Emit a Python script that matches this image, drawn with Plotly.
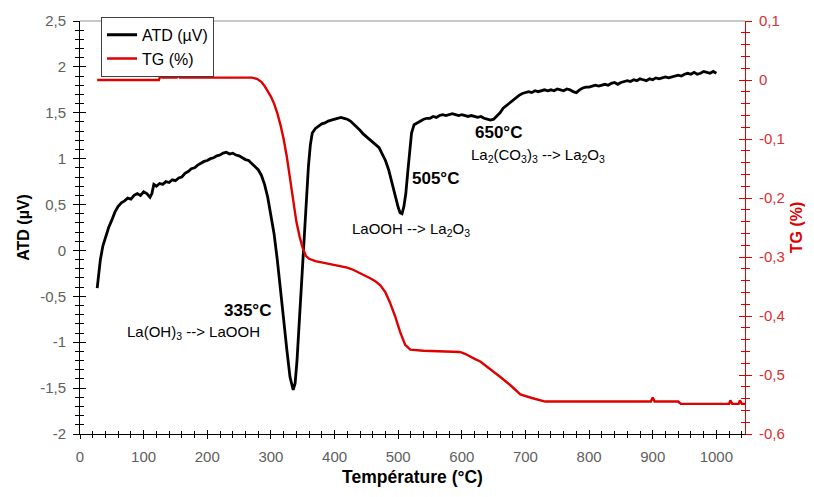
import plotly.graph_objects as go

# ---- data ----
temp_atd = [27, 29, 32, 36, 40, 45, 50, 55, 60, 65, 70, 75, 80, 85, 90, 95, 100, 105, 110, 113,
            116, 120, 125, 130, 135, 140, 145, 150, 155, 160, 165, 170, 175, 180, 185, 190, 195, 200,
            205, 210, 215, 220, 225, 230, 235, 240, 245, 250, 255, 260, 265, 270, 275, 280, 285, 290,
            295, 300, 305, 310, 315, 320, 325, 330, 335, 338, 341, 344, 347, 350, 353, 356, 359, 362,
            365, 370, 375, 380, 385, 390, 395, 400, 405, 410, 415, 420, 425, 430, 435, 440, 445, 450,
            455, 460, 465, 470, 475, 480, 485, 490, 495, 500, 503, 506, 509, 512, 515, 518, 521, 525,
            530, 535, 540, 545, 550, 555, 560, 565, 570, 575, 580, 585, 590, 595, 600, 605, 610, 615,
            620, 625, 630, 635, 640, 645, 650, 655, 660, 665, 670, 675, 680, 685, 690, 695, 700, 705,
            710, 715, 720, 725, 730, 735, 740, 745, 750, 755, 760, 765, 770, 775, 780, 785, 790, 795,
            800, 805, 810, 815, 820, 825, 830, 835, 840, 845, 850, 855, 860, 865, 870, 875, 880, 885,
            890, 895, 900, 905, 910, 915, 920, 925, 930, 935, 940, 945, 950, 955, 960, 965, 970, 975,
            980, 985, 990, 995, 1000]
atd = [-0.41, -0.25, -0.10, 0.05, 0.15, 0.25, 0.33, 0.42, 0.48, 0.52, 0.54, 0.57, 0.56, 0.60, 0.62,
       0.60, 0.64, 0.62, 0.58, 0.62, 0.72, 0.70, 0.73, 0.72, 0.75, 0.74, 0.77, 0.76, 0.79, 0.80, 0.84,
       0.86, 0.89, 0.90, 0.93, 0.95, 0.97, 0.98, 1.00, 1.01, 1.03, 1.04, 1.06, 1.07, 1.05, 1.06, 1.04,
       1.03, 1.01, 0.99, 0.98, 0.95, 0.92, 0.88, 0.82, 0.72, 0.58, 0.40, 0.18, -0.10, -0.40, -0.75,
       -1.08, -1.38, -1.52, -1.45, -1.20, -0.85, -0.50, -0.15, 0.25, 0.62, 0.92, 1.15, 1.28, 1.33,
       1.36, 1.38, 1.39, 1.41, 1.42, 1.43, 1.44, 1.45, 1.44, 1.43, 1.41, 1.38, 1.34, 1.31, 1.27, 1.24,
       1.21, 1.19, 1.16, 1.12, 1.05, 0.98, 0.88, 0.74, 0.60, 0.47, 0.41, 0.40, 0.48, 0.62, 0.85, 1.10,
       1.28, 1.37, 1.39, 1.41, 1.43, 1.44, 1.44, 1.46, 1.45, 1.47, 1.48, 1.47, 1.48, 1.49, 1.48, 1.47,
       1.48, 1.47, 1.46, 1.47, 1.46, 1.45, 1.46, 1.44, 1.43, 1.42, 1.43, 1.46, 1.50, 1.55, 1.58, 1.61,
       1.64, 1.66, 1.69, 1.71, 1.72, 1.73, 1.72, 1.74, 1.73, 1.74, 1.75, 1.74, 1.75, 1.74, 1.76, 1.75,
       1.74, 1.76, 1.75, 1.73, 1.72, 1.75, 1.77, 1.78, 1.78, 1.79, 1.80, 1.79, 1.80, 1.81, 1.80, 1.82,
       1.83, 1.81, 1.83, 1.84, 1.85, 1.84, 1.86, 1.85, 1.87, 1.86, 1.85, 1.87, 1.86, 1.88, 1.87, 1.88,
       1.89, 1.88, 1.89, 1.90, 1.91, 1.90, 1.92, 1.93, 1.92, 1.94, 1.92, 1.93, 1.95, 1.94, 1.93, 1.95,
       1.93]

temp_tg = [27, 124, 126, 129, 152, 154, 157, 270, 278, 285, 290, 295, 300, 305, 310, 315, 320, 325,
           330, 335, 340, 345, 350, 355, 360, 370, 380, 390, 400, 410, 420, 430, 440, 450, 456, 464,
           472, 480, 487, 495, 503, 511, 519, 540, 560, 580, 597, 605, 613, 621, 629, 645, 660, 676,
           692, 710, 731, 800, 897, 900, 903, 940, 944, 1000, 1020, 1022, 1025, 1035, 1037, 1040, 1045]
tg = [0.000, 0.000, 0.006, 0.004, 0.004, 0.007, 0.004, 0.004, 0.002, -0.003, -0.010, -0.018, -0.028,
      -0.040, -0.056, -0.076, -0.100, -0.130, -0.165, -0.205, -0.240, -0.265, -0.285, -0.298, -0.303,
      -0.307, -0.309, -0.311, -0.314, -0.316, -0.318, -0.322, -0.327, -0.333, -0.336, -0.341, -0.348,
      -0.360, -0.377, -0.400, -0.427, -0.449, -0.457, -0.459, -0.460, -0.461, -0.461, -0.464, -0.469,
      -0.473, -0.477, -0.490, -0.503, -0.517, -0.533, -0.539, -0.545, -0.545, -0.545, -0.538, -0.545,
      -0.545, -0.549, -0.549, -0.549, -0.543, -0.549, -0.549, -0.543, -0.549, -0.549]

x_tick_vals = [0, 100, 200, 300, 400, 500, 600, 700, 800, 900, 1000]
x_tick_text = ["0", "100", "200", "300", "400", "500", "600", "700", "800", "900", "1000"]
y_left_vals = [-2, -1.5, -1, -0.5, 0, 0.5, 1, 1.5, 2, 2.5]
y_left_text = ["-2", "-1,5", "-1", "-0,5", "0", "0,5", "1", "1,5", "2", "2,5"]
y_right_vals = [-0.6, -0.5, -0.4, -0.3, -0.2, -0.1, 0, 0.1]
y_right_text = ["-0,6", "-0,5", "-0,4", "-0,3", "-0,2", "-0,1", "0", "0,1"]

peak_labels = ["335°C", "505°C", "650°C"]
peak_x = [263, 558, 657]
peak_y = [-0.65, 0.78, 1.29]
react_labels = ["La(OH)<sub>3</sub> --> LaOOH", "LaOOH --> La<sub>2</sub>O<sub>3</sub>",
                "La<sub>2</sub>(CO<sub>3</sub>)<sub>3</sub> --> La<sub>2</sub>O<sub>3</sub>"]
react_x = [179, 520, 720]
react_y = [-0.89, 0.23, 1.03]

FONT = "Arial, Liberation Sans, sans-serif"
RED = "#e00000"
GRAY = "#606060"
X_RANGE = [0, 1045]
L_RANGE = [-2, 2.5]
R_RANGE = [-0.6, 0.1]

fig = go.Figure()
fig.add_trace(go.Scatter(x=temp_atd, y=atd, name="ATD (µV)", mode="lines",
                         line=dict(color="black", width=2.8), yaxis="y"))
fig.add_trace(go.Scatter(x=temp_tg, y=tg, name="TG (%)", mode="lines",
                         line=dict(color=RED, width=2.4, shape="linear"), yaxis="y2"))
# empty helper traces so the overlay tick axes exist
fig.add_trace(go.Scatter(x=[], y=[], xaxis="x2", yaxis="y3", showlegend=False, hoverinfo="skip"))
fig.add_trace(go.Scatter(x=[], y=[], xaxis="x", yaxis="y4", showlegend=False, hoverinfo="skip"))

for i, t in enumerate(peak_labels):
    fig.add_annotation(x=peak_x[i], y=peak_y[i], xref="x", yref="y", text="<b>" + t + "</b>",
                       showarrow=False, font=dict(family=FONT, size=17, color="black"))
for i, t in enumerate(react_labels):
    fig.add_annotation(x=react_x[i], y=react_y[i], xref="x", yref="y", text=t,
                       showarrow=False, font=dict(family=FONT, size=15, color="black"))

common_off = dict(showgrid=False, zeroline=False)
fig.update_layout(
    width=814, height=497,
    margin=dict(l=80, r=69, t=17, b=63),
    paper_bgcolor="white", plot_bgcolor="white",
    font=dict(family=FONT, size=15, color=GRAY),
    xaxis=dict(range=X_RANGE, tickmode="array", tickvals=x_tick_vals, ticktext=x_tick_text,
               ticks="outside", ticklen=4, tickcolor="black", showline=True, linecolor="black",
               linewidth=1, tickfont=dict(size=15, color=GRAY), ticklabelstandoff=5,
               minor=dict(tickmode="linear", tick0=0, dtick=20, ticks="outside", ticklen=3,
                          tickcolor="black"),
               title=dict(text="<b>Température (°C)</b>", font=dict(size=17.5, color="black"),
                          standoff=6),
               **common_off),
    xaxis2=dict(range=X_RANGE, overlaying="x", anchor="y", tickmode="array", tickvals=x_tick_vals,
                ticks="inside", ticklen=4, tickcolor="black", showticklabels=False, showline=False,
                minor=dict(tickmode="linear", tick0=0, dtick=20, ticks="inside", ticklen=3,
                           tickcolor="black"),
                **common_off),
    yaxis=dict(range=L_RANGE, tickmode="array", tickvals=y_left_vals, ticktext=y_left_text,
               ticks="outside", ticklen=6, tickcolor="black", showline=True, linecolor="black",
               linewidth=1, tickfont=dict(size=15, color=GRAY), ticklabelstandoff=4,
               minor=dict(tickmode="linear", tick0=0, dtick=0.1, ticks="outside", ticklen=4,
                          tickcolor="black"),
               title=dict(text="<b>ATD (µV)</b>", font=dict(size=16, color="black"), standoff=6),
               **common_off),
    yaxis3=dict(range=L_RANGE, overlaying="y", side="left", anchor="x", tickmode="array",
                tickvals=y_left_vals, ticks="inside", ticklen=6, tickcolor="black",
                showticklabels=False, showline=False,
                minor=dict(tickmode="linear", tick0=0, dtick=0.1, ticks="inside", ticklen=4,
                           tickcolor="black"),
                **common_off),
    yaxis2=dict(range=R_RANGE, overlaying="y", side="right", anchor="x", tickmode="array",
                tickvals=y_right_vals, ticktext=y_right_text, ticks="outside", ticklen=6,
                tickcolor=RED, showline=True, linecolor=RED, linewidth=1,
                tickfont=dict(size=15, color="#d83030"), ticklabelstandoff=4,
                minor=dict(tickmode="linear", tick0=0, dtick=0.02, ticks="outside", ticklen=4,
                           tickcolor=RED),
                title=dict(text="<b>TG (%)</b>", font=dict(size=16, color=RED), standoff=6),
                **common_off),
    yaxis4=dict(range=R_RANGE, overlaying="y", side="right", anchor="x", tickmode="array",
                tickvals=y_right_vals, ticks="inside", ticklen=6, tickcolor=RED,
                showticklabels=False, showline=False,
                minor=dict(tickmode="linear", tick0=0, dtick=0.02, ticks="inside", ticklen=4,
                           tickcolor=RED),
                **common_off),
    legend=dict(x=0.0316, y=1.01, xanchor="left", yanchor="top", bgcolor="white",
                bordercolor="#404040", borderwidth=1, font=dict(size=16, color="black"),
                tracegroupgap=0, itemwidth=30),
    shapes=[dict(type="line", xref="paper", yref="paper", x0=0, x1=1, y0=1, y1=1,
                 line=dict(color="#909090", width=1))],
)

fig.write_html("out.html")
